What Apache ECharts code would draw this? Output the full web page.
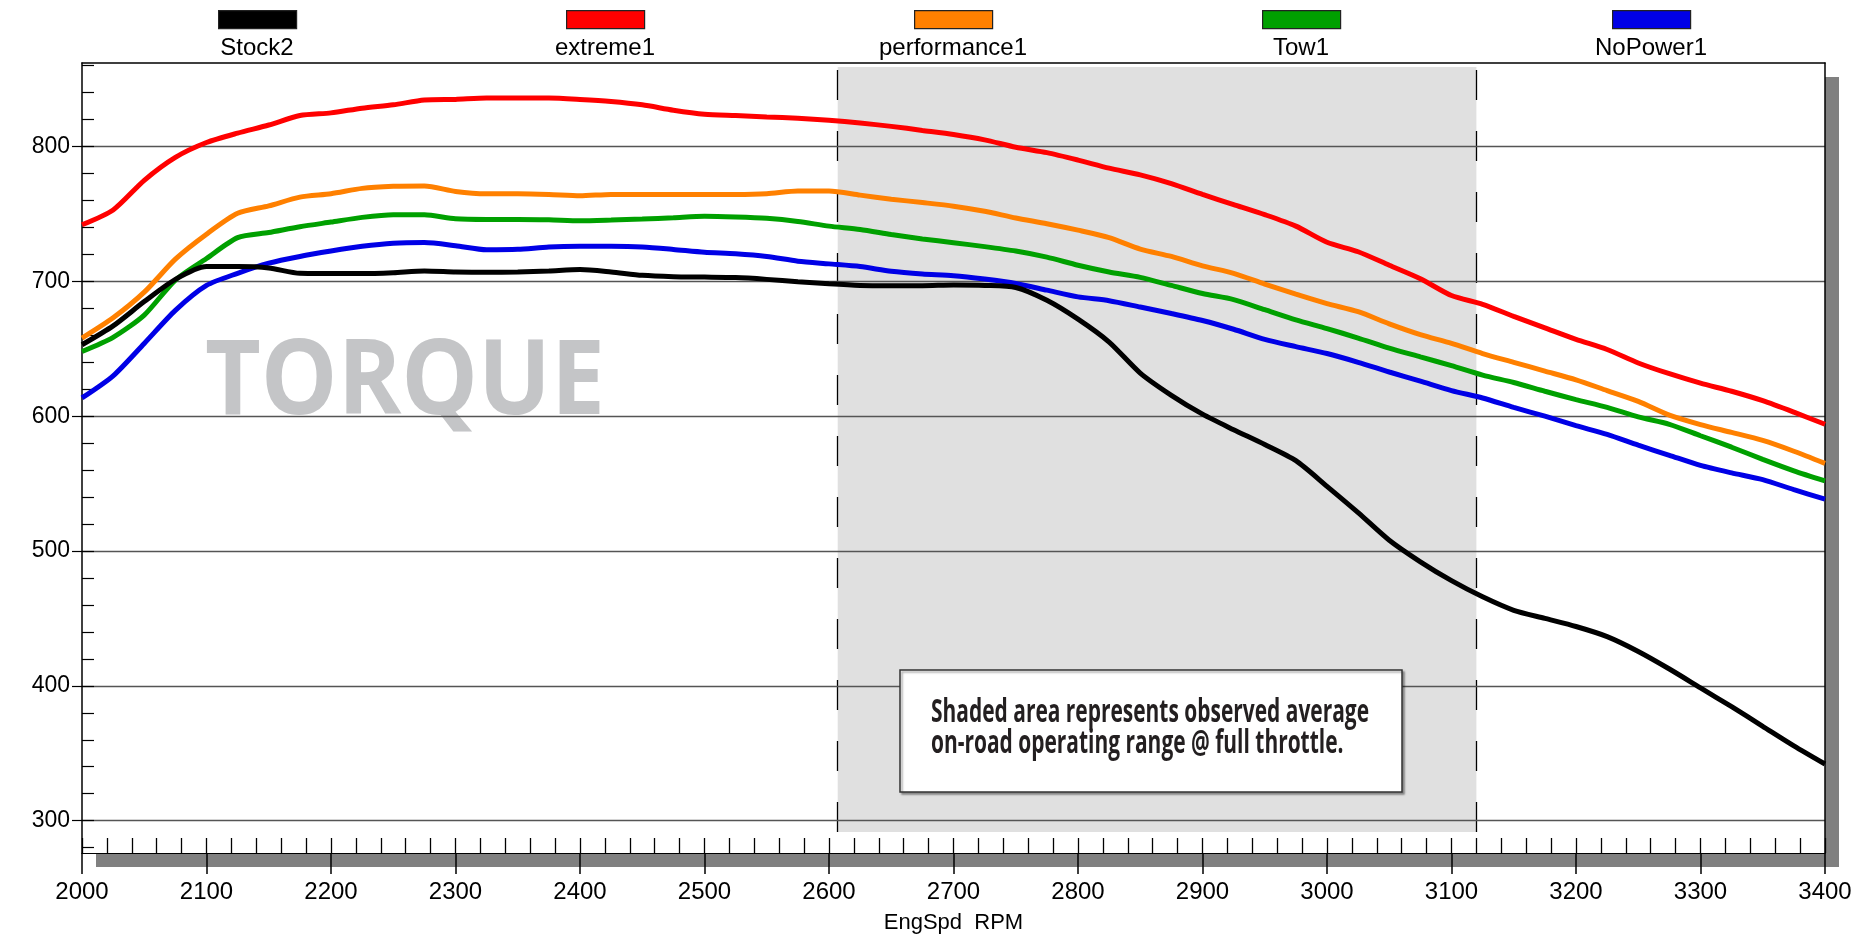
<!DOCTYPE html>
<html><head><meta charset="utf-8">
<script src="https://cdn.jsdelivr.net/npm/echarts@6/dist/echarts.min.js"></script>
<style>html,body{margin:0;padding:0;background:#fff}#c{width:1872px;height:939px}</style>
</head><body><div id="c"></div>
<script>
const rpm = [2000,2025,2050,2075,2100,2125,2150,2175,2200,2225,2250,2275,2300,2325,2350,2375,
  2400,2425,2450,2475,2500,2525,2550,2575,2600,2625,2650,2675,2700,2725,2750,2775,
  2800,2825,2850,2875,2900,2925,2950,2975,3000,3025,3050,3075,3100,3125,3150,3175,
  3200,3225,3250,3275,3300,3325,3350,3375,3400];

const stock2 = [653,667,685,701.5,711,711,710,706,
  705.8,705.8,706.5,707.8,707,706.7,707,707.8,
  708.8,707,704.5,703.5,703.2,702.8,701.5,699.8,
  698.2,697,696.8,696.8,697.3,697,695.5,686,
  672,655,632,615.5,601.5,590,579,567,
  548,528.5,508,492,478,466,456,450,
  444,436.5,425.5,412.5,398.5,384.5,370,355.5,
  342];
const extreme1 = [742,753,775,792,803,810,816,823,
  825,828.5,831,834.5,835,836,836,836,
  835,833.5,831,827,824,823,822,821,
  819.5,817.5,815,812,809,805,799.5,795.5,
  790,784,779,772.5,764.5,757,749.5,741,
  729,722,712,702,689.5,683,674,665.5,
  657,649.5,639.5,631.5,624.5,618.5,611.5,603,
  594];
const performance1 = [658,673,692,716.5,735,750.5,756,762.5,
  765,769,770.5,770.8,766.7,765,765,764.5,
  763.5,764.5,764.5,764.5,764.5,764.5,765,767,
  767,764,761,758.5,755.8,752,747,742.8,
  738,732.5,724,718.5,711.5,706,698,690.5,
  683.5,677.5,668.5,660.5,654,646.5,640,633.5,
  627,619,611,600.8,593.8,588,582,574,
  565];
const tow1 = [648,658.5,675,701,717,732.5,736.3,740.5,
  744,747.5,749.5,749.4,746.5,746,746,745.7,
  745,745.5,746.2,747.2,748.3,747.8,746.8,744.5,
  741,738.5,734.8,731.5,728.7,725.8,722.5,718,
  712,707,703,697,691,686.5,679,671.5,
  665,658,650.5,644,637.5,630.5,625,618.5,
  612.3,606.5,599.5,594,585.5,577,568,559.5,
  552];
const noPower1 = [613.6,630,654,678.5,697,706,713.5,718.5,
  722.5,726,728.3,728.8,726.5,723.5,723.8,725.5,
  726,726,725.5,723.7,721.6,720.5,718.5,715,
  713,711,707.5,705.5,704.2,701.7,698.5,693.5,
  688.5,685.7,681,676.2,671,664.5,657,651.6,
  646.5,640,632.8,626,619,613.5,606.5,600,
  593,586.5,578.5,571,563.5,558,553,545.5,
  538.5];

const seriesNames = ['Stock2','extreme1','performance1','Tow1','NoPower1'];
const seriesValues = [stock2, extreme1, performance1, tow1, noPower1];
const seriesColors = ['#000000','#ff0000','#ff8000','#00a000','#0000e6'];

const xMin = 2000, xMax = 3400, xMajor = 100, xMinor = 20;
const yMin = 276, yMax = 862;
const yTickValues = [300,400,500,600,700,800];
const yMinorTickValues = [280,300,320,340,360,380,400,420,440,460,480,500,520,540,560,580,
  600,620,640,660,680,700,720,740,760,780,800,820,840,860];

const shadeStart = 2607, shadeEnd = 3120, shadeBottom = 291.5, shadeTop = 859;
const annotationLines = ['Shaded area represents observed average', 'on-road operating range @ full throttle.'];
const watermark = 'TORQUE';
const xAxisName = 'EngSpd  RPM';

const legendCenters = [257, 605, 953, 1301, 1651];

function measure(text, font) {
  const c = document.createElement('canvas').getContext('2d');
  c.font = font;
  return c.measureText(text).width;
}

const chart = echarts.init(document.getElementById('c'), null, {renderer: 'canvas'});

const wmFont = 'bold 104px "Open Sans"';
const wmScale = 400 / measure(watermark, wmFont);
const noteFont = 'bold 32px "Open Sans"';
const noteScale = 438 / measure(annotationLines[0], noteFont);

const legends = seriesNames.map((n, i) => ({
  data: [n], left: legendCenters[i] - 39, top: 10, orient: 'horizontal',
  itemWidth: 78, itemHeight: 18, icon: 'rect', padding: 0, itemGap: 0,
  selectedMode: false, formatter: () => '',
  itemStyle: {borderColor: '#222', borderWidth: 1.2},
  textStyle: {fontSize: 1}
}));

const graphics = [];
seriesNames.forEach((n, i) => {
  graphics.push({type: 'text', x: legendCenters[i], y: 48, z: 10,
    style: {text: n, font: '24px "Liberation Sans"', fill: '#000', textAlign: 'center', textVerticalAlign: 'middle'}});
});
graphics.push({type: 'text', x: 205, y: 384, z: 1, scaleX: wmScale,
  style: {text: watermark, font: wmFont, fill: '#c4c5c7', textAlign: 'left', textVerticalAlign: 'middle'}});
graphics.push({type: 'rect', x: 900, y: 670, z: 20,
  shape: {width: 502, height: 122},
  style: {fill: '#fff', stroke: '#333', lineWidth: 1.5, shadowColor: 'rgba(0,0,0,0.35)', shadowOffsetX: 2, shadowOffsetY: 2, shadowBlur: 2}});
annotationLines.forEach((t, i) => {
  graphics.push({type: 'text', x: 931, y: 713 + i * 31, z: 21, scaleX: noteScale,
    style: {text: t, font: noteFont, fill: '#231f20', textAlign: 'left', textVerticalAlign: 'middle'}});
});

const lineSeries = seriesNames.map((n, i) => ({
  name: n, type: 'line', showSymbol: false, symbol: 'none',
  data: rpm.map((x, j) => [x, seriesValues[i][j]]),
  color: seriesColors[i],
  lineStyle: {color: seriesColors[i], width: 5},
  smooth: 0.25, z: i === 0 ? 6 : 5, silent: true,
  xAxisIndex: 0, yAxisIndex: 0
}));
// shaded operating range + dashed boundaries
lineSeries[0].markArea = {
  silent: true, z: 1,
  itemStyle: {color: '#e0e0e0'},
  data: [[{xAxis: shadeStart, yAxis: shadeBottom}, {xAxis: shadeEnd, yAxis: shadeTop}]]
};
lineSeries[0].markLine = {
  silent: true, symbol: 'none', z: 2,
  label: {show: false},
  lineStyle: {color: '#000', width: 1.3, type: [30, 31]},
  data: [
    [{coord: [shadeStart, shadeBottom]}, {coord: [shadeStart, yMax - 1]}],
    [{coord: [shadeEnd, shadeBottom]}, {coord: [shadeEnd, yMax - 1]}]
  ]
};

const axisFont = {fontFamily: 'Liberation Sans', fontSize: 24, color: '#000'};
const plain = v => String(v);
const frameAxis = {axisLine: {show: true, lineStyle: {color: '#000', width: 1.5}},
  axisTick: {show: false}, axisLabel: {show: false}, splitLine: {show: false}, z: 3};

chart.setOption({
  animation: false,
  backgroundColor: '#fff',
  legend: legends,
  graphic: graphics,
  grid: {
    left: 82, right: 47, top: 63, bottom: 84, show: true,
    backgroundColor: '#fff', borderWidth: 0,
    shadowColor: '#808080', shadowOffsetX: 14, shadowOffsetY: 14, shadowBlur: 0
  },
  xAxis: [
    {type: 'value', min: xMin, max: xMax, interval: xMajor, z: 3, position: 'bottom',
     axisLine: {show: true, lineStyle: {color: '#000', width: 1.2}},
     axisTick: {show: true, length: 21, lineStyle: {color: '#000', width: 1.5}},
     axisLabel: Object.assign({margin: 27, formatter: plain}, axisFont),
     splitLine: {show: false},
     name: xAxisName, nameLocation: 'middle', nameGap: 59,
     nameTextStyle: {fontFamily: 'Liberation Sans', fontSize: 22, color: '#000'}},
    {type: 'value', min: xMin, max: xMax, interval: xMinor, z: 3, position: 'bottom', offset: 0,
     axisLine: {show: false},
     axisTick: {show: true, inside: true, length: 15, lineStyle: {color: '#000', width: 1.3}},
     axisLabel: {show: false}, splitLine: {show: false}},
    Object.assign({type: 'value', min: xMin, max: xMax, position: 'top', offset: 0}, frameAxis)
  ],
  yAxis: [
    {type: 'value', min: yMin, max: yMax, z: 3, position: 'left',
     axisLine: {show: true, lineStyle: {color: '#000', width: 1.5}},
     axisTick: {show: true, length: 10, customValues: yTickValues, lineStyle: {color: '#000', width: 1.2}},
     axisLabel: Object.assign({margin: 12, customValues: yTickValues, formatter: plain}, axisFont, {fontSize: 23}),
     splitLine: {show: true, lineStyle: {color: '#555', width: 1.3}}},
    {type: 'value', min: yMin, max: yMax, z: 3, position: 'left', offset: 0,
     axisLine: {show: false},
     axisTick: {show: true, inside: true, length: 12, customValues: yMinorTickValues, lineStyle: {color: '#000', width: 1.2}},
     axisLabel: {show: false}, splitLine: {show: false}},
    Object.assign({type: 'value', min: yMin, max: yMax, position: 'right', offset: 0}, frameAxis)
  ],
  series: lineSeries
});
</script>
</body></html>
